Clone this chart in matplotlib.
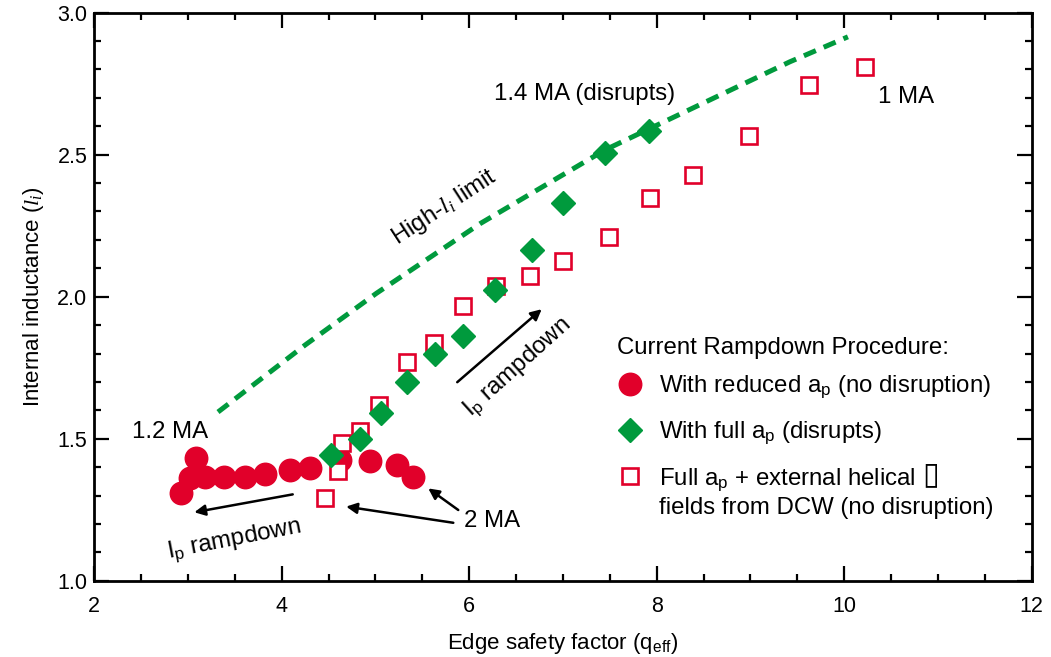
import matplotlib
matplotlib.use('Agg')
import matplotlib.pyplot as plt
from matplotlib.lines import Line2D
from matplotlib.ticker import MultipleLocator

plt.rcParams['font.family'] = ['Liberation Sans', 'DejaVu Sans']
plt.rcParams['mathtext.fontset'] = 'custom'
plt.rcParams['mathtext.rm'] = 'Liberation Sans'
plt.rcParams['mathtext.it'] = 'Liberation Serif:italic'
plt.rcParams['mathtext.bf'] = 'Liberation Sans:bold'

# ---- data ----
q_reduced = [2.92, 3.085, 3.02, 3.18, 3.38, 3.61, 3.82, 4.09, 4.30, 4.62, 4.94, 5.23, 5.40]
li_reduced = [1.308, 1.431, 1.362, 1.365, 1.366, 1.366, 1.376, 1.390, 1.397, 1.425, 1.423, 1.407, 1.364]

q_full = [4.53, 4.835, 5.06, 5.34, 5.63, 5.93, 6.27, 6.67, 7.00, 7.45, 7.92]
li_full = [1.443, 1.498, 1.592, 1.699, 1.797, 1.863, 2.024, 2.164, 2.329, 2.507, 2.583]

q_dcw = [4.46, 4.60, 4.64, 4.83, 5.04, 5.34, 5.62, 5.93, 6.29, 6.65, 7.00, 7.49, 7.93, 8.39, 8.98, 9.62, 10.22]
li_dcw = [1.290, 1.388, 1.486, 1.527, 1.619, 1.771, 1.838, 1.968, 2.039, 2.073, 2.124, 2.211, 2.346, 2.429, 2.566, 2.744, 2.810]

q_limit = [3.32, 4.25, 5.01, 5.62, 6.12, 7.45, 9.42, 10.04]
li_limit = [1.594, 1.830, 2.012, 2.147, 2.258, 2.517, 2.827, 2.915]

xticks = [2, 4, 6, 8, 10, 12]
yticks = [1.0, 1.5, 2.0, 2.5, 3.0]

red = '#E1002A'
green = '#009A3D'

fig = plt.figure(figsize=(10.51, 6.57), dpi=100)
ax = fig.add_axes([0.0897, 0.1161, 0.8919, 0.8646])

ax.plot(q_reduced, li_reduced, 'o', color=red, ms=16.2, mec=red, zorder=3)
ax.plot(q_dcw, li_dcw, 's', mfc='white', mec=red, mew=1.9, ms=11.7, zorder=4)
ax.plot(q_full, li_full, 'D', color=green, ms=12.3, zorder=5)
ax.plot(q_limit, li_limit, '--', color=green, lw=3.6, dashes=(2.6, 1.7), zorder=6)

ax.set_xlim(2, 12)
ax.set_ylim(1.0, 3.0)
ax.set_xticks(xticks)
ax.set_yticks(yticks)
ax.set_yticklabels([f'{v:.1f}' for v in yticks])
ax.xaxis.set_minor_locator(MultipleLocator(0.5))
ax.yaxis.set_minor_locator(MultipleLocator(0.1))
ax.tick_params(which='both', direction='in', top=True, right=True, width=1.6, labelsize=15.5)
ax.tick_params(which='major', length=10.5)
ax.tick_params(which='minor', length=5)
ax.tick_params(axis='y', pad=5)
ax.tick_params(axis='x', pad=11)
for s in ax.spines.values():
    s.set_linewidth(2)

ax.set_xlabel('Edge safety factor (q$_\\mathregular{eff}$)', fontsize=16, labelpad=10)
ax.set_ylabel('Internal inductance ($l_i$)', fontsize=16, labelpad=8)

fs = 17.3
ax.text(2.81, 1.523, '1.2 MA', fontsize=fs, ha='center', va='center')
ax.text(7.235, 2.713, '1.4 MA (disrupts)', fontsize=fs, ha='center', va='center')
ax.text(10.66, 2.703, '1 MA', fontsize=fs, ha='center', va='center')
ax.text(6.245, 1.210, '2 MA', fontsize=fs, ha='center', va='center')
ax.text(5.73, 2.315, 'High-$l_i$ limit', fontsize=fs, ha='center', va='center', rotation=33,
        rotation_mode='anchor')
ax.text(3.49, 1.143, 'I$_\\mathregular{p}$ rampdown', fontsize=fs, ha='center', va='center', rotation=11,
        rotation_mode='anchor')
ax.text(6.52, 1.750, 'I$_\\mathregular{p}$ rampdown', fontsize=fs, ha='center', va='center', rotation=42,
        rotation_mode='anchor')

arrow = dict(arrowstyle='-|>', lw=1.8, color='black', mutation_scale=16, shrinkA=0, shrinkB=0)
ax.annotate('', xy=(3.067, 1.241), xytext=(4.117, 1.304), arrowprops=arrow)
ax.annotate('', xy=(4.687, 1.261), xytext=(5.83, 1.204), arrowprops=arrow)
ax.annotate('', xy=(5.563, 1.325), xytext=(5.883, 1.249), arrowprops=arrow)
ax.annotate('', xy=(6.773, 1.956), xytext=(5.872, 1.699), arrowprops=arrow)

handles = [
    Line2D([], [], marker='o', ls='none', color=red, ms=16.2),
    Line2D([], [], marker='D', ls='none', color=green, ms=12.3),
    Line2D([], [], marker='s', ls='none', mfc='white', mec=red, mew=1.9, ms=11.7),
]
labels = [
    'With reduced a$_\\mathregular{p}$ (no disruption)',
    'With full a$_\\mathregular{p}$ (disrupts)',
    'Full a$_\\mathregular{p}$ + external helical',
]
lfs = 17.3
ax.text(0.5576, 0.410, 'Current Rampdown Procedure:', fontsize=lfs, transform=ax.transAxes,
        ha='left', va='center')
leg = ax.legend(handles, labels, loc='upper left',
                bbox_to_anchor=(0.5576, 0.3645), frameon=False, fontsize=lfs,
                borderpad=0, borderaxespad=0, handlelength=1.08,
                handletextpad=0.66, labelspacing=0.80)
ax.text(0.8926, 0.1860, '\u25af', fontsize=22, family=['DejaVu Sans'], fontweight='bold',
        transform=ax.transAxes, ha='center', va='center')
ax.text(0.6024, 0.128, 'fields from DCW (no disruption)', fontsize=lfs, transform=ax.transAxes,
        ha='left', va='center')

fig.savefig('out.png', dpi=100)
